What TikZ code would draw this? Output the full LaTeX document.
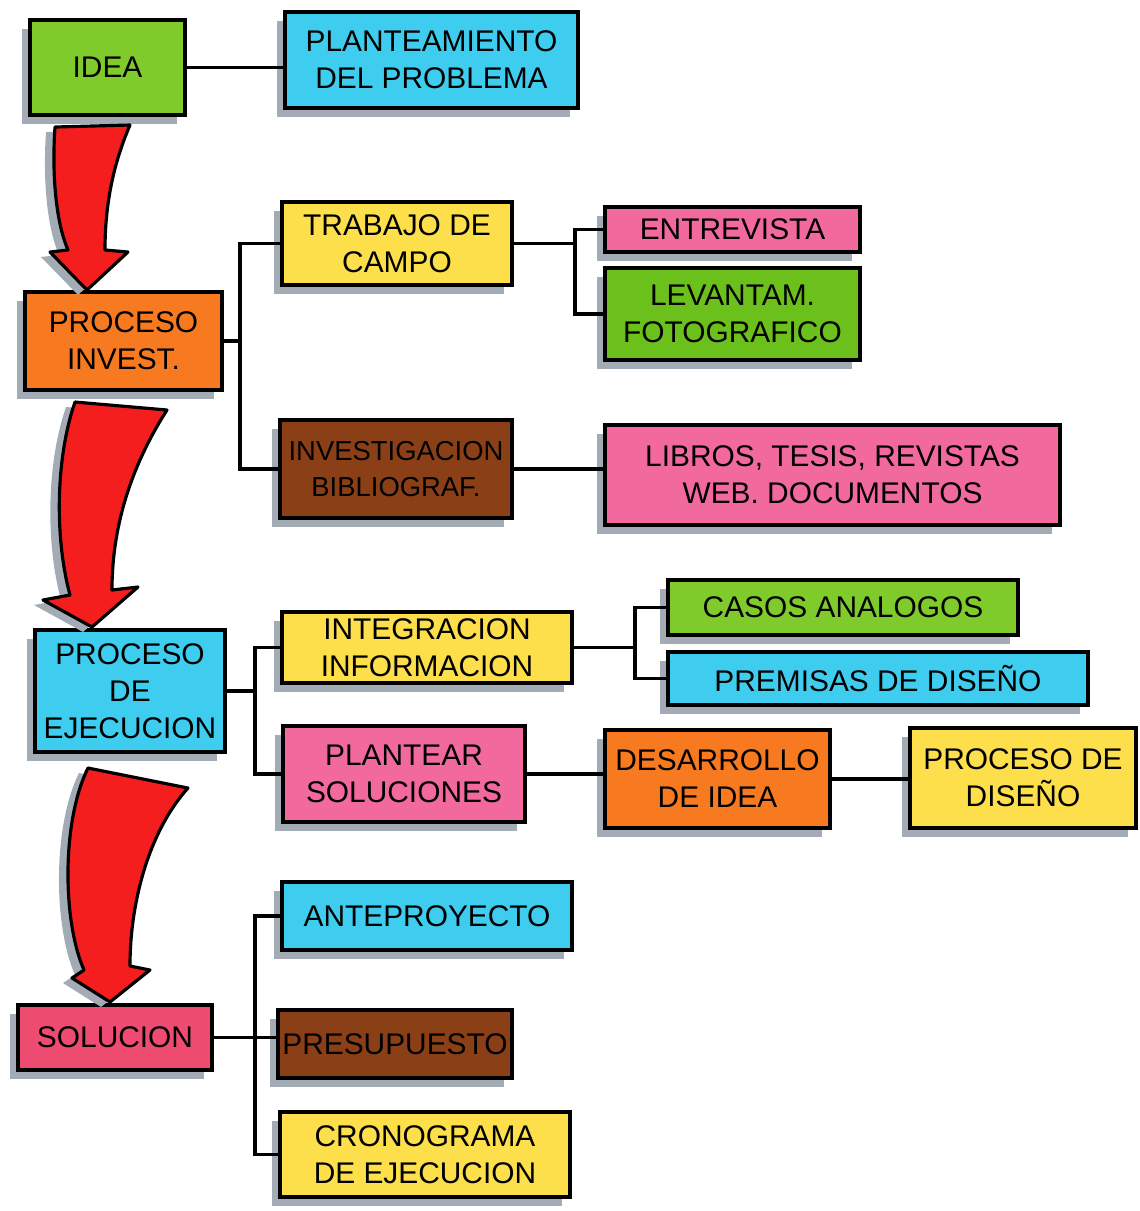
\documentclass[tikz,border=0pt]{standalone}
\usepackage{fontspec}
\setmainfont{Liberation Sans}
\usepackage{tikz}
\usetikzlibrary{calc}
\usetikzlibrary{shadows}
\definecolor{ideagreen}{HTML}{7FCB2C}
\definecolor{fotogreen}{HTML}{6CC01C}
\definecolor{markcyan}{HTML}{3FCDEF}
\definecolor{markorange}{HTML}{F77A20}
\definecolor{markyellow}{HTML}{FCDF4A}
\definecolor{markpink}{HTML}{F2699E}
\definecolor{markcrimson}{HTML}{EE4B70}
\definecolor{markbrown}{HTML}{8A3F16}
\definecolor{arrowred}{HTML}{F41E1E}
\definecolor{shadowgray}{HTML}{A3ACB5}
\tikzset{%
  mybox/.style={rectangle, draw=black, line width=0.9pt, align=center,
    font=\fontsize{8.5}{10.5}\selectfont, inner sep=1pt,
    drop shadow={shadow xshift=-0.08cm, shadow yshift=-0.09cm, fill=shadowgray, opacity=1}},
  myline/.style={draw=black, line width=0.9pt},
  myarrow/.style={fill=arrowred, draw=black, line width=0.9pt, line join=round,
    drop shadow={shadow xshift=-0.09cm, shadow yshift=-0.05cm, fill=shadowgray, opacity=1}}
}

\begin{document}
\begin{tikzpicture}
  \useasboundingbox (0,0) rectangle (11.40,-12.11);
  \node[mybox, fill=ideagreen, minimum width=1.55cm, minimum height=0.95cm] (idea) at (1.075,-0.675) {IDEA};
  \node[mybox, fill=markcyan, minimum width=2.93cm, minimum height=0.96cm] (plant) at (4.315,-0.60) {PLANTEAMIENTO\\DEL PROBLEMA};
  \node[mybox, fill=markorange, minimum width=1.97cm, minimum height=0.98cm] (procinv) at (1.235,-3.41) {PROCESO\\INVEST.};
  \node[mybox, fill=markyellow, minimum width=2.30cm, minimum height=0.83cm] (trabajo) at (3.97,-2.435) {TRABAJO DE\\CAMPO};
  \node[mybox, fill=markpink, minimum width=2.55cm, minimum height=0.45cm] (entrev) at (7.325,-2.295) {ENTREVISTA};
  \node[mybox, fill=fotogreen, minimum width=2.55cm, minimum height=0.92cm] (levant) at (7.325,-3.14) {LEVANTAM.\\FOTOGRAFICO};
  \node[mybox, fill=markbrown, minimum width=2.32cm, minimum height=0.98cm, font=\fontsize{7.8}{10}\selectfont] (biblio) at (3.96,-4.69) {INVESTIGACION\\BIBLIOGRAF.};
  \node[mybox, fill=markpink, minimum width=4.55cm, minimum height=1.00cm] (libros) at (8.325,-4.75) {LIBROS, TESIS, REVISTAS\\WEB. DOCUMENTOS};
  \node[mybox, fill=markcyan, minimum width=1.90cm, minimum height=1.22cm] (procej) at (1.30,-6.91) {PROCESO\\DE\\EJECUCION};
  \node[mybox, fill=markyellow, minimum width=2.90cm, minimum height=0.71cm] (integ) at (4.27,-6.475) {INTEGRACION\\INFORMACION};
  \node[mybox, fill=ideagreen, minimum width=3.50cm, minimum height=0.55cm] (casos) at (8.43,-6.075) {CASOS ANALOGOS};
  \node[mybox, fill=markcyan, minimum width=4.20cm, minimum height=0.53cm] (premis) at (8.78,-6.785) {PREMISAS DE DISEÑO};
  \node[mybox, fill=markpink, minimum width=2.42cm, minimum height=0.96cm] (plantear) at (4.04,-7.74) {PLANTEAR\\SOLUCIONES};
  \node[mybox, fill=markorange, minimum width=2.25cm, minimum height=0.98cm] (desarr) at (7.175,-7.79) {DESARROLLO\\DE IDEA};
  \node[mybox, fill=markyellow, minimum width=2.26cm, minimum height=1.00cm] (procdis) at (10.23,-7.78) {PROCESO DE\\DISEÑO};
  \node[mybox, fill=markcrimson, minimum width=1.94cm, minimum height=0.65cm] (solucion) at (1.15,-10.375) {SOLUCION};
  \node[mybox, fill=markcyan, minimum width=2.90cm, minimum height=0.68cm] (antep) at (4.27,-9.16) {ANTEPROYECTO};
  \node[mybox, fill=markbrown, minimum width=2.34cm, minimum height=0.68cm] (presup) at (3.95,-10.44) {PRESUPUESTO};
  \node[mybox, fill=markyellow, minimum width=2.90cm, minimum height=0.85cm] (crono) at (4.25,-11.545) {CRONOGRAMA\\DE EJECUCION};

  \coordinate (j1) at (2.40,-3.41);
  \coordinate (j2) at (5.75,-2.58);
  \coordinate (j3) at (2.55,-6.91);
  \coordinate (j4) at (6.35,-6.45);
  \coordinate (j5) at (2.55,-10.40);

  \draw [myline] (idea.east) -- (idea.east -| plant.west);
  \draw [myline] (procinv.east) -- (j1);
  \draw [myline] (trabajo.west) -| (j1) |- (biblio.west);
  \draw [myline] (trabajo.east) -- (trabajo.east -| j2);
  \draw [myline] (entrev.west) -| (j2) |- (levant.west);
  \draw [myline] (biblio.east) -- (biblio.east -| libros.west);
  \draw [myline] (procej.east) -- (j3);
  \draw [myline] (integ.west) -| (j3) |- (plantear.west);
  \draw [myline] (integ.east) -- (integ.east -| j4);
  \draw [myline] (casos.west) -| (j4) |- (premis.west);
  \draw [myline] (plantear.east) -- (plantear.east -| desarr.west);
  \draw [myline] (desarr.east) -- (desarr.east -| procdis.west);
  \draw [myline] (solucion.east) -- (solucion.east -| presup.west);
  \draw [myline] (antep.west) -| (j5) |- (crono.west);

  \filldraw [myarrow] (0.55,-1.27) -- (1.30,-1.25) .. controls (1.15,-1.60) and (1.05,-2.00) .. (1.05,-2.50)
    -- (1.28,-2.52) -- (0.87,-2.90) -- (0.50,-2.52) -- (0.68,-2.50)
    .. controls (0.55,-2.20) and (0.52,-1.70) .. (0.55,-1.27) -- cycle;
  \filldraw [myarrow] (0.75,-4.02) -- (1.67,-4.10) .. controls (1.35,-4.60) and (1.12,-5.20) .. (1.12,-5.90)
    -- (1.38,-5.87) -- (0.92,-6.27) -- (0.43,-6.00) -- (0.70,-5.95)
    .. controls (0.55,-5.40) and (0.55,-4.60) .. (0.75,-4.02) -- cycle;
  \filldraw [myarrow] (0.88,-7.68) -- (1.88,-7.88) .. controls (1.50,-8.30) and (1.30,-9.00) .. (1.30,-9.66)
    -- (1.50,-9.70) -- (1.10,-10.02) -- (0.72,-9.78) -- (0.84,-9.70)
    .. controls (0.62,-9.20) and (0.62,-8.20) .. (0.88,-7.68) -- cycle;
\end{tikzpicture}
\end{document}
